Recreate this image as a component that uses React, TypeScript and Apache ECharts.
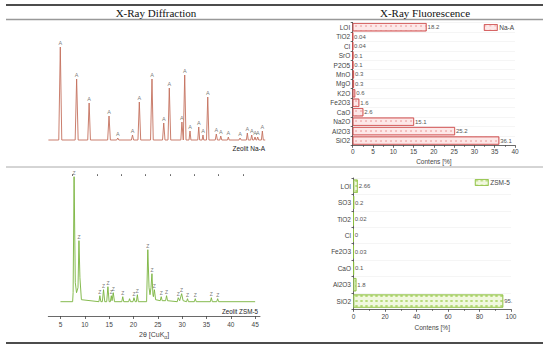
import React, { useEffect, useRef } from "react";
import * as echarts from "echarts";

// ---------- Data ----------
// Na-A diffraction pattern: [2θ, intensity above baseline]
const naAPattern: [number, number][] = [
  [5.0, 1], [6.9, 1], [7.18, 94], [7.45, 1],
  [9.9, 1], [10.17, 62], [10.45, 1],
  [12.2, 1], [12.46, 38], [12.7, 1],
  [15.85, 1], [16.1, 25], [16.35, 1],
  [17.5, 1], [17.7, 3], [17.9, 1],
  [20.2, 1], [20.4, 6], [20.6, 1],
  [21.4, 1], [21.65, 39], [21.9, 1],
  [23.7, 1], [23.97, 62], [24.2, 1],
  [25.9, 1], [26.12, 18], [26.35, 1],
  [26.9, 1], [27.14, 53], [27.4, 1],
  [29.25, 1], [29.45, 19], [29.7, 1], [29.96, 66], [30.2, 1],
  [30.75, 1], [30.93, 10], [31.1, 1],
  [32.35, 1], [32.53, 14], [32.7, 1],
  [33.15, 1], [33.31, 6], [33.45, 1],
  [33.95, 1], [34.18, 44], [34.4, 1],
  [35.55, 1], [35.75, 7], [35.95, 1],
  [36.4, 1], [36.56, 5], [36.75, 1],
  [37.8, 1], [37.95, 4], [38.1, 1],
  [39.9, 1], [40.09, 3], [40.3, 1],
  [41.25, 1], [41.43, 8], [41.6, 1],
  [42.05, 1], [42.23, 6], [42.4, 1], [42.65, 1], [42.84, 4], [43.0, 1],
  [43.15, 1], [43.33, 4], [43.5, 1],
  [44.0, 1], [44.18, 10], [44.35, 1], [44.7, 1],
];
const naAPeaks: [number, number][] = [
  [7.18, 94], [10.17, 62], [12.46, 38], [16.1, 25], [17.7, 3], [20.4, 6],
  [21.65, 39], [23.97, 62], [26.12, 18], [27.14, 53], [29.45, 19], [29.96, 66],
  [30.93, 10], [32.53, 14], [33.31, 6], [34.18, 44], [35.75, 7], [36.56, 5],
  [37.95, 4], [40.09, 3], [41.43, 8], [42.23, 6], [42.84, 4], [43.33, 4], [44.18, 10],
];

// ZSM-5 diffraction pattern
const zsmPattern: [number, number][] = [
  [5, 1], [7.5, 1], [7.6, 10], [7.8, 126], [8.05, 20], [8.3, 10], [8.6, 15],
  [8.8, 62], [9.0, 25], [9.3, 3], [12.9, 1], [13.1, 7], [13.3, 1], [13.6, 1],
  [13.85, 13], [14.1, 1], [14.5, 1], [14.75, 16], [15.0, 1], [15.25, 1],
  [15.45, 7], [15.6, 2], [15.85, 10], [16.1, 1], [17.6, 1], [17.8, 6], [18.0, 1],
  [19.0, 1], [19.2, 4], [19.4, 1], [19.9, 1], [20.1, 5], [20.35, 1], [20.6, 1],
  [20.8, 8], [21.0, 1], [22.7, 1], [22.95, 53], [23.2, 15], [23.4, 8], [23.6, 15],
  [23.8, 29], [24.0, 8], [24.1, 6], [24.3, 13], [24.55, 3], [25.5, 2], [25.7, 6],
  [25.9, 2], [26.6, 2], [26.8, 7], [27.0, 2], [29.0, 1], [29.2, 5], [29.5, 2],
  [29.9, 9], [30.2, 2], [30.9, 1], [31.1, 4], [31.3, 1], [32.5, 1], [32.7, 4],
  [32.9, 1], [35.8, 1], [36.0, 5], [36.2, 1], [37.1, 1], [37.3, 4], [37.5, 1], [45, 1],
];
const zsmPeaks: [number, number][] = [
  [7.8, 126], [8.8, 62], [13.1, 7], [13.85, 13], [14.75, 16], [15.45, 7],
  [15.85, 10], [17.8, 6], [20.1, 5], [20.8, 8], [22.95, 53], [23.8, 29],
  [24.3, 13], [25.7, 6], [26.8, 7], [29.2, 5], [29.9, 9], [31.1, 4],
  [32.7, 4], [36.0, 5], [37.3, 4],
];
const xrdTickLabels = [5, 10, 15, 20, 25, 30, 35, 40, 45];
const xrdMinorTicks = [7.5, 12.5, 17.5, 22.5, 27.5, 32.5, 37.5, 42.5];

// XRF Na-A
const naACategories = ["LOI", "TiO2", "Cl", "SrO", "P2O5", "MnO", "MgO", "K2O", "Fe2O3", "CaO", "Na2O", "Al2O3", "SiO2"];
const naAValues = [18.2, 0.04, 0.04, 0.1, 0.1, 0.3, 0.3, 0.6, 1.6, 2.6, 15.1, 25.2, 36.1];

// XRF ZSM-5
const zsmCategories = ["LOI", "SO3", "TiO2", "Cl", "Fe2O3", "CaO", "Al2O3", "SiO2"];
const zsmValues = [2.66, 0.2, 0.02, 0, 0.03, 0.1, 1.8, 95];
const zsmLabels = ["2.66", "0.2", "0.02", "0", "0.03", "0.1", "1.8", "95."];

// ---------- Chart ----------
const SANS = "Liberation Sans, Arial, sans-serif";
const SERIF = "Liberation Serif, Times New Roman, serif";
const AX = "#444";

export default function App() {
  const ref = useRef<HTMLDivElement>(null);

  useEffect(() => {
    if (!ref.current) return;
    const chart = echarts.init(ref.current, undefined, { renderer: "svg" });

    const hline = (y: number, color: string, w: number) => ({
      type: "line",
      shape: { x1: 6, y1: y, x2: 543, y2: y },
      style: { stroke: color, lineWidth: w },
      silent: true,
    });

    const naAStyle = {
      color: "#fde8e8", borderColor: "#cf4a4a", borderWidth: 0.6,
      decal: { symbol: "circle", symbolSize: 0.7, color: "#e58080", dashArrayX: [2, 3], dashArrayY: [2, 3], rotation: 0 },
    };
    const zsmStyle = {
      color: "#f1f8df", borderColor: "#8cbf3e", borderWidth: 0.6,
      decal: { symbol: "rect", symbolSize: 0.8, color: "#a6d25a", dashArrayX: [3, 2], dashArrayY: [1.5, 2.5], rotation: 0 },
    };

    const option: any = {
      animation: false,
      backgroundColor: "#fff",
      grid: [
        { left: 48.4, top: 41, width: 216.8, height: 100 },
        { left: 48.3, top: 176, width: 211.7, height: 140 },
        { left: 352.7, top: 22.5, width: 162.3, height: 122.8 },
        { left: 353.5, top: 178, width: 157.5, height: 131.3 },
      ],
      xAxis: [
        { type: "value", gridIndex: 0, min: 5, max: 44.7, show: false },
        {
          type: "value", gridIndex: 1, min: 2.5, max: 46,
          axisLine: { show: true, onZero: false, lineStyle: { color: AX, width: 0.8 } },
          axisTick: { show: true, customValues: xrdTickLabels, length: 3, lineStyle: { color: AX, width: 0.8 } },
          axisLabel: { customValues: xrdTickLabels, fontSize: 6.5, color: AX, fontFamily: SANS, margin: 5 },
          splitLine: { show: false },
          name: "{a|2θ [CuK}{s|α}{a|]}",
          nameLocation: "middle",
          nameGap: 14,
          nameTextStyle: {
            rich: {
              a: { fontSize: 7, color: AX, fontFamily: SANS },
              s: { fontSize: 5, color: AX, fontFamily: SANS, padding: [4, 0, 0, 0] },
            },
          },
        },
        {
          type: "value", gridIndex: 1, min: 2.5, max: 46,
          axisLine: { show: false, onZero: false },
          axisTick: { show: true, customValues: xrdMinorTicks, length: 1.8, lineStyle: { color: AX, width: 0.8 } },
          axisLabel: { show: false },
          splitLine: { show: false },
        },
        {
          type: "value", gridIndex: 2, min: 0, max: 40, interval: 5,
          axisLine: { show: true, lineStyle: { color: AX, width: 0.8 } },
          axisTick: { show: true, length: 2.5, lineStyle: { color: AX, width: 0.8 } },
          minorTick: { show: true, splitNumber: 2, length: 1.5, lineStyle: { color: AX, width: 0.8 } },
          axisLabel: { fontSize: 6.5, color: AX, fontFamily: SANS, margin: 2.5 },
          splitLine: { show: false },
          name: "Contens [%]",
          nameLocation: "middle",
          nameGap: 13,
          nameTextStyle: { fontSize: 6.5, color: AX, fontFamily: SANS },
        },
        {
          type: "value", gridIndex: 3, min: 0, max: 100, interval: 20,
          axisLine: { show: true, lineStyle: { color: AX, width: 0.8 } },
          axisTick: { show: true, length: 2.5, lineStyle: { color: AX, width: 0.8 } },
          minorTick: { show: true, splitNumber: 2, length: 1.5, lineStyle: { color: AX, width: 0.8 } },
          axisLabel: { fontSize: 6.5, color: AX, fontFamily: SANS, margin: 4 },
          splitLine: { show: false },
          name: "Contens [%]",
          nameLocation: "middle",
          nameGap: 14.5,
          nameTextStyle: { fontSize: 6.5, color: AX, fontFamily: SANS },
        },
      ],
      yAxis: [
        { type: "value", gridIndex: 0, min: 0, max: 100, show: false },
        { type: "value", gridIndex: 1, min: -13.3, max: 126.7, show: false },
        {
          type: "category", gridIndex: 2, data: naACategories, inverse: true,
          axisLine: { show: true, lineStyle: { color: AX, width: 0.8 } },
          axisTick: { show: true, length: 2, lineStyle: { color: AX, width: 0.8 } },
          axisLabel: { fontSize: 6.5, color: AX, fontFamily: SANS, margin: 2.5 },
          splitLine: { show: true, lineStyle: { color: "#efefef", width: 0.6 } },
        },
        {
          type: "category", gridIndex: 3, data: zsmCategories, inverse: true,
          axisLine: { show: true, lineStyle: { color: AX, width: 0.8 } },
          axisTick: { show: true, length: 2, lineStyle: { color: AX, width: 0.8 } },
          axisLabel: { fontSize: 6.5, color: AX, fontFamily: SANS, margin: 2.5 },
          splitLine: { show: true, lineStyle: { color: "#efefef", width: 0.6 } },
        },
      ],
      legend: [
        {
          data: ["Na-A"], left: 484, top: 24, padding: 0, itemWidth: 13, itemHeight: 6, icon: "rect",
          itemStyle: { borderWidth: 0.6 },
          textStyle: { fontSize: 6.5, color: AX, fontFamily: SANS, padding: [0, 0, 0, -3] },
        },
        {
          data: ["ZSM-5"], left: 475, top: 179, padding: 0, itemWidth: 13, itemHeight: 6, icon: "rect",
          itemStyle: { borderWidth: 0.6 },
          textStyle: { fontSize: 6.5, color: AX, fontFamily: SANS, padding: [0, 0, 0, -3] },
        },
      ],
      series: [
        {
          type: "line", xAxisIndex: 0, yAxisIndex: 0, data: naAPattern,
          showSymbol: false, symbol: "none", lineStyle: { color: "#c4715e", width: 0.9 },
        },
        {
          type: "scatter", xAxisIndex: 0, yAxisIndex: 0, data: naAPeaks, symbolSize: 0,
          label: { show: true, position: "top", distance: 1, formatter: "A", fontSize: 5.5, color: "#555", fontFamily: SANS },
        },
        {
          type: "line", xAxisIndex: 1, yAxisIndex: 1, data: zsmPattern,
          showSymbol: false, symbol: "none", lineStyle: { color: "#78b33c", width: 0.9 },
        },
        {
          type: "scatter", xAxisIndex: 1, yAxisIndex: 1, data: zsmPeaks, symbolSize: 0,
          label: { show: true, position: "top", distance: 1, formatter: "Z", fontSize: 5, color: "#555", fontFamily: SANS },
        },
        {
          name: "Na-A", type: "bar", xAxisIndex: 3, yAxisIndex: 2, data: naAValues,
          barCategoryGap: "14%",
          itemStyle: naAStyle,
          label: { show: true, position: "right", distance: 1, fontSize: 6, color: "#555", fontFamily: SANS },
        },
        {
          name: "ZSM-5", type: "bar", xAxisIndex: 4, yAxisIndex: 3, data: zsmValues,
          barCategoryGap: "20%",
          itemStyle: zsmStyle,
          label: {
            show: true, position: "right", distance: 1, fontSize: 6, color: "#555", fontFamily: SANS,
            formatter: (p: any) => zsmLabels[p.dataIndex],
          },
        },
      ],
      graphic: [
        hline(5, "#111", 1.5),
        hline(19.5, "#999", 1.5),
        hline(167, "#aaa", 1),
        hline(343, "#111", 1.5),
        {
          type: "text", x: 156, y: 13, silent: true,
          style: { text: "X-Ray Diffraction", font: `11px ${SERIF}`, fill: "#111", align: "center", verticalAlign: "middle" },
        },
        {
          type: "text", x: 425, y: 13, silent: true,
          style: { text: "X-Ray Fluorescence", font: `11px ${SERIF}`, fill: "#111", align: "center", verticalAlign: "middle" },
        },
        {
          type: "text", x: 265, y: 148, silent: true,
          style: { text: "Zeolit Na-A", font: `6.5px ${SANS}`, fill: "#222", align: "right", verticalAlign: "middle" },
        },
        {
          type: "text", x: 258, y: 311.5, silent: true,
          style: { text: "Zeolit ZSM-5", font: `6.3px ${SANS}`, fill: "#222", align: "right", verticalAlign: "middle" },
        },
      ],
    };

    chart.setOption(option);
    return () => chart.dispose();
  }, []);

  return (
    <div
      ref={ref}
      style={{ position: "fixed", left: 0, top: 0, width: 550, height: 349, background: "#fff" }}
    />
  );
}
